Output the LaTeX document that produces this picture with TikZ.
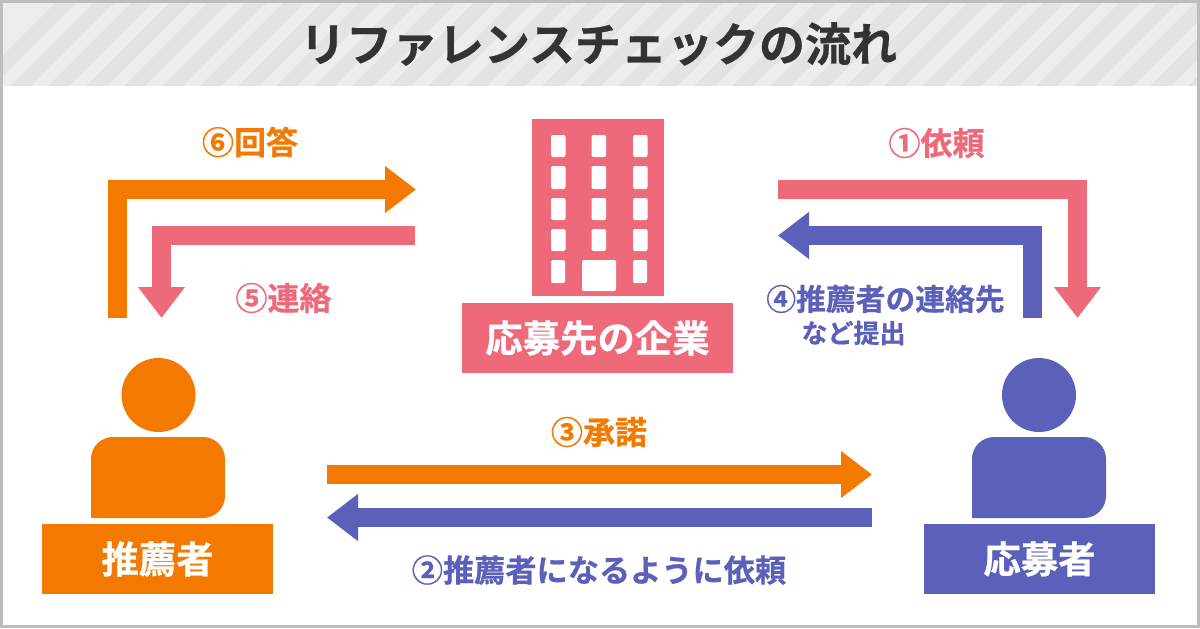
\documentclass[tikz,border=0pt]{standalone}
\usepackage{fontspec}
\setmainfont{Noto Sans CJK JP}[BoldFont={* Bold},BoldFeatures={FakeBold=0.6}]
\usepackage{xcolor}
\usetikzlibrary{arrows.meta}
\definecolor{rsorange}{HTML}{F47900}
\definecolor{rspink}{HTML}{EE6A7A}
\definecolor{rsblue}{HTML}{5B60BA}
\tikzset{
	flow/.style={line width=9.5pt,miter limit=10,-{Triangle[length=15.5pt,width=22.5pt]}},
	name box/.style={fill=#1,text=white,font=\fontsize{18.7}{20}\selectfont\bfseries,inner sep=0pt},
	step label/.style={text=#1,font=\fontsize{16}{18}\selectfont\bfseries,inner sep=0pt},
	win/.style={fill=white,rounded corners=1pt}
}
\begin{document}
\begin{tikzpicture}[x=0.5pt,y=-0.5pt]
	\useasboundingbox (0,0) rectangle (1200,628);
	% frame and title band
	\fill[white] (0,0) rectangle (1200,628);
	\fill[black!7] (3,3) rectangle (1197,86);
	\begin{scope}
		\clip (3,3) rectangle (1197,86);
		\foreach \x in {-28,10,...,1280}
			\fill[black!11] (\x,86) -- (\x+21,86) -- (\x+104,3) -- (\x+83,3) -- cycle;
	\end{scope}
	\draw[black!26,line width=1.5pt] (1.5,1.5) rectangle (1198.5,626.5);
	\node[text=black!80,font=\fontsize{23}{25}\selectfont\bfseries,inner sep=0pt] (title) at (598.5,44) {リファレンスチェックの流れ};

	% company
	\node[fill=rspink,minimum width=66pt,minimum height=88.5pt,inner sep=0pt] (bldg) at (598,207.5) {};
	\foreach \x in {551,591.5,633}
		\foreach \y/\h in {135/22,166/23,198/22,229/22}
			\fill[win] (\x,\y) rectangle ++(14.5,\h);
	\fill[win] (551,260) rectangle ++(14,23);
	\fill[win] (633,260) rectangle ++(14,23);
	\fill[win] (582,260) rectangle (616,291);
	\node[name box=rspink,minimum width=135.5pt,minimum height=35pt] (company) at (597.5,338) {応募先の企業};

	% people
	\node[circle,fill=rsorange,minimum size=37pt,inner sep=0pt] (headL) at (158.5,395) {};
	\fill[rsorange,rounded corners=11pt] (91,518) -- (91,437) -- (225,437) -- (225,518) [sharp corners] -- cycle;
	\node[name box=rsorange,minimum width=115.5pt,minimum height=35pt] (referrer) at (157.5,559) {推薦者};
	\node[circle,fill=rsblue,minimum size=37pt,inner sep=0pt] (headR) at (1039,395) {};
	\fill[rsblue,rounded corners=11pt] (972,518) -- (972,437) -- (1106,437) -- (1106,518) [sharp corners] -- cycle;
	\node[name box=rsblue,minimum width=115.5pt,minimum height=35pt] (applicant) at (1039.5,559) {応募者};

	% arrow ends
	\coordinate (a6) at (117.5,318);
	\coordinate (b6) at (416,189.5);
	\coordinate (a5) at (415,235.5);
	\coordinate (b5) at (161.5,318);
	\coordinate (a1) at (778,189.5);
	\coordinate (b1) at (1077.5,318);
	\coordinate (a4) at (1032.5,318);
	\coordinate (b4) at (778,235.5);
	\coordinate (a3) at (327,474.5);
	\coordinate (b3) at (872,474.5);
	\coordinate (a2) at (872,517.5);
	\coordinate (b2) at (327,517.5);

	\draw[flow,rsorange] (a6) |- (b6);
	\draw[flow,rspink] (a5) -| (b5);
	\draw[flow,rspink] (a1) -| (b1);
	\draw[flow,rsblue] (a4) |- (b4);
	\draw[flow,rsorange] (a3) -- (b3);
	\draw[flow,rsblue] (a2) -- (b2);

	% labels
	\node[step label=rsorange] (l6) at (250,142) {⑥回答};
	\node[step label=rspink] (l5) at (283.5,298) {⑤連絡};
	\node[step label=rspink] (l1) at (936.5,143) {①依頼};
	\node[step label=rsblue,font=\fontsize{14.9}{17}\selectfont\bfseries] (l4) at (885.5,299) {④推薦者の連絡先};
	\node[step label=rsblue,font=\fontsize{13}{15}\selectfont\bfseries] (l4b) at (853.5,333) {など提出};
	\node[step label=rsorange] (l3) at (599,432) {③承諾};
	\node[step label=rsblue,font=\fontsize{15.6}{17}\selectfont\bfseries] (l2) at (599,570) {②推薦者になるように依頼};
\end{tikzpicture}
\end{document}
